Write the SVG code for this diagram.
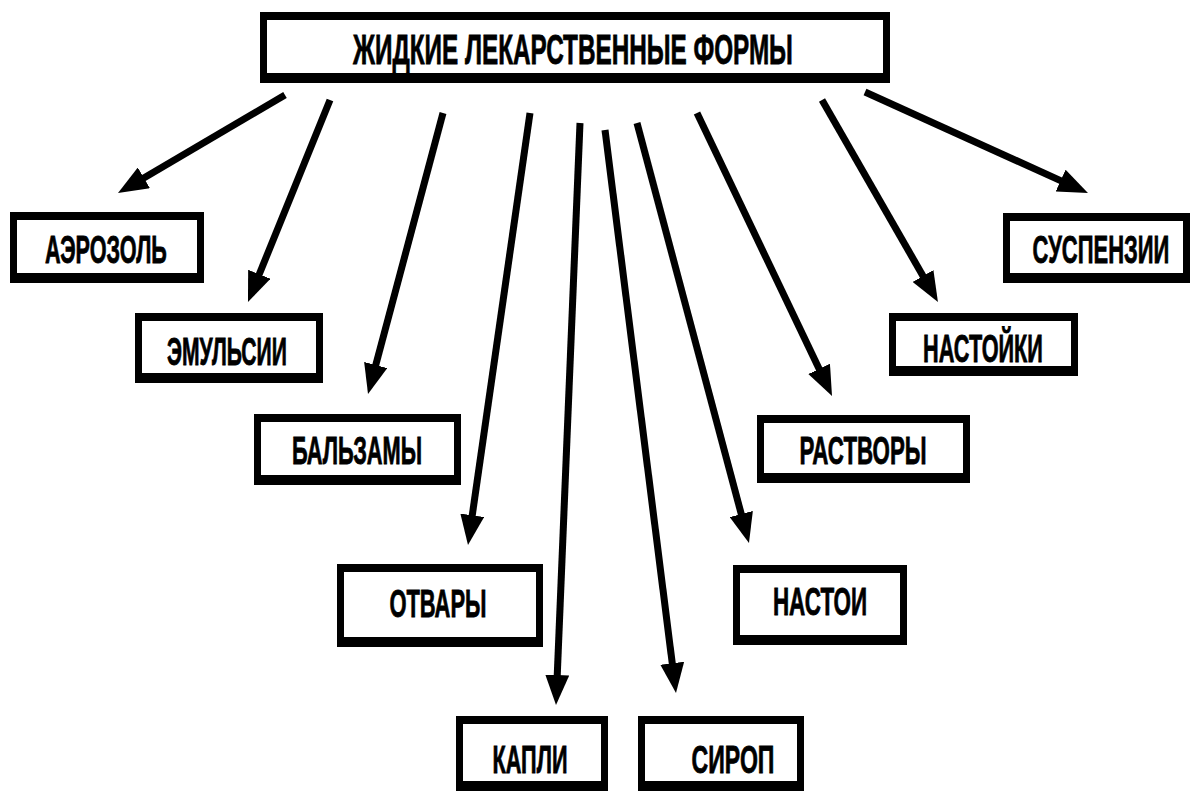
<svg xmlns="http://www.w3.org/2000/svg" width="1193" height="791" viewBox="0 0 1193 791">
<style>
.ob{fill:#000}
.ib{fill:#fff}
.lbl{font-family:"Liberation Sans",Arial,sans-serif;font-weight:bold;font-size:38px;fill:#000;stroke:#000;stroke-width:0.8;text-anchor:middle}
.title{font-size:43px}
.arr{stroke:#000;stroke-width:7;fill:none;marker-end:url(#ah)}
</style>
<defs>
<marker id="ah" markerUnits="userSpaceOnUse" viewBox="0 -12 30 24" refX="6" refY="0" markerWidth="30" markerHeight="24" orient="auto">
<path d="M0,-12 L30,0 L0,12 Z" fill="#000"/>
</marker>
</defs>
<rect width="1193" height="791" fill="#fff"/>
<g id="connectors">
<line class="arr" x1="285" y1="95" x2="138.7" y2="180.9"/>
<line class="arr" x1="330" y1="100" x2="257" y2="279.8"/>
<line class="arr" x1="443" y1="113" x2="374.2" y2="370.8"/>
<line class="arr" x1="530" y1="113" x2="471.4" y2="521.2"/>
<line class="arr" x1="580" y1="123" x2="557" y2="681"/>
<line class="arr" x1="605" y1="130" x2="673" y2="669.2"/>
<line class="arr" x1="637" y1="123" x2="742.8" y2="519.8"/>
<line class="arr" x1="697" y1="113" x2="821.7" y2="374.3"/>
<line class="arr" x1="822" y1="100" x2="926" y2="281.2"/>
<line class="arr" x1="865" y1="92" x2="1066.1" y2="183.1"/>
</g>
<g id="root">
<rect class="ob" x="260" y="12" width="630" height="71"/>
<rect class="ib" x="267" y="20" width="616" height="53"/>
<text class="lbl title" transform="scale(0.6 1)" x="955" y="64" textLength="733" lengthAdjust="spacingAndGlyphs">ЖИДКИЕ ЛЕКАРСТВЕННЫЕ ФОРМЫ</text>
</g>
<g id="aerozol">
<rect class="ob" x="10" y="212" width="194" height="71"/>
<rect class="ib" x="17" y="220" width="180" height="53"/>
<text class="lbl" transform="scale(0.6 1)" x="176.7" y="263" textLength="203" lengthAdjust="spacingAndGlyphs">АЭРОЗОЛЬ</text>
</g>
<g id="emulsii">
<rect class="ob" x="135" y="313" width="188" height="70"/>
<rect class="ib" x="142" y="321" width="174" height="52"/>
<text class="lbl" transform="scale(0.6 1)" x="378.3" y="365" textLength="200" lengthAdjust="spacingAndGlyphs">ЭМУЛЬСИИ</text>
</g>
<g id="balzamy">
<rect class="ob" x="254" y="414" width="207" height="71"/>
<rect class="ib" x="261" y="422" width="193" height="53"/>
<text class="lbl" transform="scale(0.6 1)" x="595" y="464" textLength="217" lengthAdjust="spacingAndGlyphs">БАЛЬЗАМЫ</text>
</g>
<g id="otvary">
<rect class="ob" x="337" y="564" width="206" height="83"/>
<rect class="ib" x="344" y="572" width="192" height="65"/>
<text class="lbl" transform="scale(0.6 1)" x="730" y="617" textLength="162" lengthAdjust="spacingAndGlyphs">ОТВАРЫ</text>
</g>
<g id="kapli">
<rect class="ob" x="456" y="716" width="152" height="75"/>
<rect class="ib" x="463" y="724" width="138" height="57"/>
<text class="lbl" transform="scale(0.6 1)" x="883.3" y="773" textLength="125" lengthAdjust="spacingAndGlyphs">КАПЛИ</text>
</g>
<g id="sirop">
<rect class="ob" x="638" y="716" width="166" height="75"/>
<rect class="ib" x="645" y="724" width="152" height="57"/>
<text class="lbl" transform="scale(0.6 1)" x="1221.7" y="773" textLength="138" lengthAdjust="spacingAndGlyphs">СИРОП</text>
</g>
<g id="nastoi">
<rect class="ob" x="733" y="565" width="174" height="80"/>
<rect class="ib" x="740" y="573" width="160" height="62"/>
<text class="lbl" transform="scale(0.6 1)" x="1366.7" y="615" textLength="157" lengthAdjust="spacingAndGlyphs">НАСТОИ</text>
</g>
<g id="rastvory">
<rect class="ob" x="757" y="415" width="213" height="68"/>
<rect class="ib" x="764" y="423" width="199" height="50"/>
<text class="lbl" transform="scale(0.6 1)" x="1438.3" y="464" textLength="212" lengthAdjust="spacingAndGlyphs">РАСТВОРЫ</text>
</g>
<g id="nastoyki">
<rect class="ob" x="889" y="313" width="189" height="63"/>
<rect class="ib" x="896" y="321" width="175" height="45"/>
<text class="lbl" transform="scale(0.6 1)" x="1638.3" y="362" textLength="200" lengthAdjust="spacingAndGlyphs">НАСТОЙКИ</text>
</g>
<g id="suspenzii">
<rect class="ob" x="1003" y="213" width="187" height="70"/>
<rect class="ib" x="1010" y="221" width="173" height="52"/>
<text class="lbl" transform="scale(0.6 1)" x="1835" y="263" textLength="228" lengthAdjust="spacingAndGlyphs">СУСПЕНЗИИ</text>
</g>
</svg>
